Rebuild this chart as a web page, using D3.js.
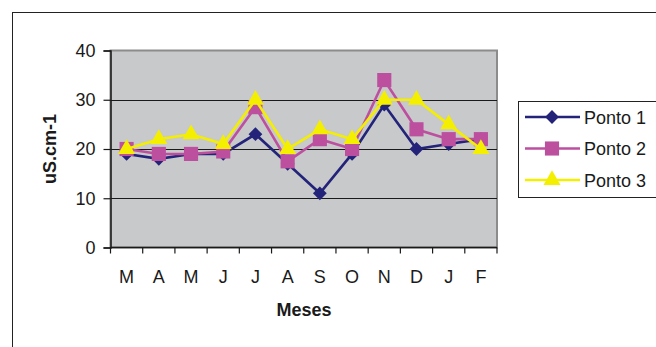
<!DOCTYPE html>
<html>
<head>
<meta charset="utf-8">
<script src="https://cdn.jsdelivr.net/npm/d3@7"></script>
<style>
  html, body { margin: 0; padding: 0; background: #fff; }
  svg { display: block; font-family: Arial, "Liberation Sans", sans-serif; }
</style>
</head>
<body>
<svg id="chart" width="656" height="347"></svg>
<script>
// Months (March to February)
const months = ["M", "A", "M", "J", "J", "A", "S", "O", "N", "D", "J", "F"];
const seriesNames = ["Ponto 1", "Ponto 2", "Ponto 3"];
const ponto1 = [19, 18, 19, 19, 23, 17, 11, 19, 29, 20, 21, 22];
const ponto2 = [20, 19, 19, 19.5, 28.5, 17.5, 22, 20, 34, 24, 22, 22];
const ponto3 = [20, 22, 23, 21, 30, 20, 24, 22, 30, 30, 25, 20];
const yTicks = [0, 10, 20, 30, 40];

const colors = ["#23237a", "#bd4f9f", "#f4ee00"];
const symbols = [d3.symbolSquare, d3.symbolSquare, d3.symbolTriangle];
const symbolSizes = [95, 200, 125];
const symbolRotation = [45, 0, 0];
const series = [ponto1, ponto2, ponto3].map((values, i) => ({ name: seriesNames[i], values, i }));

const svg = d3.select("#chart");

// outer frame
svg.append("rect")
  .attr("x", 12.5).attr("y", 12.5)
  .attr("width", 700).attr("height", 400)
  .attr("fill", "none").attr("stroke", "#222").attr("stroke-width", 1);

const plot = { left: 110.5, right: 497, top: 50.5, bottom: 247.5 };

const x = d3.scaleBand().domain(d3.range(months.length))
  .range([plot.left, plot.right]).paddingInner(0).paddingOuter(0);
const y = d3.scaleLinear().domain([0, 40]).range([plot.bottom, plot.top]);

// plot background
svg.append("rect")
  .attr("x", plot.left).attr("y", plot.top)
  .attr("width", plot.right - plot.left).attr("height", plot.bottom - plot.top)
  .attr("fill", "#c8c9cb").attr("stroke", "#8c8c8c").attr("stroke-width", 2);

// gridlines
svg.append("g").selectAll("line")
  .data(yTicks.filter(t => t > 0 && t < 40))
  .join("line")
  .attr("x1", plot.left).attr("x2", plot.right)
  .attr("y1", d => Math.round(y(d)) + 0.5).attr("y2", d => Math.round(y(d)) + 0.5)
  .attr("stroke", "#1a1a1a").attr("stroke-width", 1);

// y axis
const yAxis = svg.append("g")
  .attr("transform", `translate(${plot.left},0)`)
  .call(d3.axisLeft(y).tickValues(yTicks).tickSize(7).tickPadding(8).tickFormat(d3.format("d")));
yAxis.select(".domain").attr("stroke", "#1a1a1a").attr("stroke-width", 1.5);
yAxis.selectAll(".tick line").attr("stroke", "#1a1a1a").attr("stroke-width", 1.2);
yAxis.selectAll("text").attr("font-size", 18).attr("fill", "#1a1a1a")
  .attr("font-family", "Arial, 'Liberation Sans', sans-serif");

// x axis: ticks at category boundaries, labels in band centres
const xAxisG = svg.append("g").attr("transform", `translate(0,${plot.bottom})`);
xAxisG.append("line")
  .attr("x1", plot.left).attr("x2", plot.right)
  .attr("stroke", "#1a1a1a").attr("stroke-width", 1.5);
const boundaries = d3.range(months.length + 1).map(i => i < months.length ? x(i) : plot.right);
xAxisG.selectAll(".bt").data(boundaries).join("line")
  .attr("class", "bt")
  .attr("x1", d => d).attr("x2", d => d)
  .attr("y1", 0).attr("y2", 6)
  .attr("stroke", "#1a1a1a").attr("stroke-width", 1.2);
xAxisG.selectAll("text").data(months).join("text")
  .attr("x", (d, i) => x(i) + x.bandwidth() / 2)
  .attr("y", 35)
  .attr("text-anchor", "middle")
  .attr("font-size", 18).attr("fill", "#1a1a1a")
  .text(d => d);

// axis titles
svg.append("text")
  .attr("x", 304).attr("y", 316)
  .attr("text-anchor", "middle")
  .attr("font-size", 18).attr("font-weight", "bold").attr("fill", "#1a1a1a")
  .text("Meses");
svg.append("text")
  .attr("transform", "translate(56,149) rotate(-90)")
  .attr("text-anchor", "middle")
  .attr("font-size", 18).attr("font-weight", "bold").attr("fill", "#1a1a1a")
  .text("uS.cm-1");

// series lines and markers
const line = d3.line()
  .x((d, i) => x(i) + x.bandwidth() / 2)
  .y(d => y(d));

const gSeries = svg.append("g").selectAll("g").data(series).join("g");
gSeries.append("path")
  .attr("d", d => line(d.values))
  .attr("fill", "none")
  .attr("stroke", d => colors[d.i])
  .attr("stroke-width", 2.6)
  .attr("stroke-linejoin", "miter");
gSeries.selectAll("path.mk")
  .data(d => d.values.map((v, j) => ({ v, j, s: d.i })))
  .join("path")
  .attr("class", "mk")
  .attr("transform", d => `translate(${x(d.j) + x.bandwidth() / 2},${y(d.v)}) rotate(${symbolRotation[d.s]})`)
  .attr("d", d => d3.symbol(symbols[d.s], symbolSizes[d.s])())
  .attr("fill", d => colors[d.s]);

// legend
const legend = svg.append("g");
legend.append("rect")
  .attr("x", 518.5).attr("y", 101.5)
  .attr("width", 200).attr("height", 96)
  .attr("fill", "#fff").attr("stroke", "#222").attr("stroke-width", 1);
const rows = legend.selectAll("g.row").data(series).join("g")
  .attr("class", "row")
  .attr("transform", (d, i) => `translate(0,${117 + i * 31.5})`);
rows.append("line")
  .attr("x1", 525).attr("x2", 580)
  .attr("stroke", d => colors[d.i]).attr("stroke-width", 2.6);
rows.append("path")
  .attr("transform", d => `translate(552,0) rotate(${symbolRotation[d.i]})`)
  .attr("d", d => d3.symbol(symbols[d.i], symbolSizes[d.i])())
  .attr("fill", d => colors[d.i]);
rows.append("text")
  .attr("x", 584).attr("y", 6.5)
  .attr("font-size", 18).attr("fill", "#1a1a1a")
  .text(d => d.name);
</script>
</body>
</html>
